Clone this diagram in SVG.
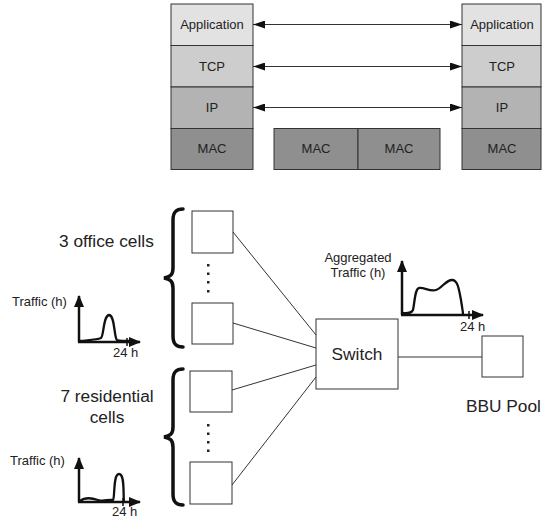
<svg xmlns="http://www.w3.org/2000/svg" width="542" height="524" viewBox="0 0 542 524">
<style>
text{font-family:"Liberation Sans",Arial,sans-serif;fill:#222}
.s{font-size:13px;text-anchor:middle}
.l{font-size:17.3px}
.app{fill:#e2e2e2;stroke:#333;stroke-width:1}
.tcp{fill:#cdcdcd;stroke:#333;stroke-width:1}
.ip{fill:#b3b3b3;stroke:#333;stroke-width:1}
.mac{fill:#8f8f8f;stroke:#333;stroke-width:1}
.box{fill:#fff;stroke:#333;stroke-width:1}
.ln{stroke:#333;stroke-width:1;fill:none}
.ax{stroke:#111;stroke-width:2.5;fill:none}
.cv{stroke:#111;stroke-width:2.3;fill:none}
.br{stroke:#111;stroke-width:3.5;fill:none;stroke-linecap:round}
.dot{fill:#222}
</style>
<defs>
<marker id="ah" viewBox="0 0 12 8" refX="12" refY="4" markerWidth="12" markerHeight="8" markerUnits="userSpaceOnUse" orient="auto-start-reverse">
<path d="M0,0L12,4L0,8z" fill="#111"/>
</marker>
<marker id="axh" viewBox="0 0 12 10" refX="11" refY="5" markerWidth="12" markerHeight="10" markerUnits="userSpaceOnUse" orient="auto">
<path d="M0,0L12,5L0,10z" fill="#111"/>
</marker>
</defs>

<g id="stack-left">
<rect class="app" x="171" y="4" width="82" height="41.5"/>
<rect class="tcp" x="171" y="45.5" width="82" height="41.5"/>
<rect class="ip" x="171" y="87" width="82" height="41.5"/>
<rect class="mac" x="171" y="128.5" width="82" height="41"/>
<text class="s" x="212" y="28.5">Application</text>
<text class="s" x="212" y="70.5">TCP</text>
<text class="s" x="212" y="111.5">IP</text>
<text class="s" x="212" y="153">MAC</text>
</g>
<g id="stack-middle">
<rect class="mac" x="274" y="128.5" width="84" height="41"/>
<rect class="mac" x="358" y="128.5" width="82" height="41"/>
<text class="s" x="316" y="153">MAC</text>
<text class="s" x="399" y="153">MAC</text>
</g>
<g id="stack-right">
<rect class="app" x="462" y="4" width="79" height="41.5"/>
<rect class="tcp" x="462" y="45.5" width="79" height="41.5"/>
<rect class="ip" x="462" y="87" width="79" height="41.5"/>
<rect class="mac" x="462" y="128.5" width="79" height="41"/>
<text class="s" x="502" y="28.5">Application</text>
<text class="s" x="502" y="70.5">TCP</text>
<text class="s" x="502" y="111.5">IP</text>
<text class="s" x="502" y="153">MAC</text>
</g>

<g id="office">
<text class="l" x="59" y="247">3 office cells</text>
<path class="br" d="M183,209 C176,209 173,212 173,220 L173,268 C173,275 170,277 164,278 C170,279 173,281 173,288 L173,336 C173,344 176,347 183,347"/>
<rect class="box" x="192" y="211" width="41" height="42"/>
<rect class="box" x="192" y="303" width="41" height="41"/>
<rect class="dot" x="207" y="264" width="2.5" height="2.5"/>
<rect class="dot" x="207" y="272.5" width="2.5" height="2.5"/>
<rect class="dot" x="207" y="281" width="2.5" height="2.5"/>
<rect class="dot" x="207" y="290" width="2.5" height="2.5"/>
</g>
<g id="office-traffic">
<text x="12" y="306" style="font-size:13px">Traffic (h)</text>
<line class="ax" x1="79" y1="342" x2="79" y2="296" marker-end="url(#axh)"/>
<line class="ax" x1="78" y1="342" x2="140" y2="342" marker-end="url(#axh)"/>
<line x1="127" y1="338" x2="127" y2="346" stroke="#111" stroke-width="1.5"/>
<path class="cv" d="M80,341 C88,340 96,340 101,338 C104,336 103,316 109,315 C115,315 114,338 117,340 C121,341 125,341 130,341"/>
<text x="113" y="357" style="font-size:13px">24 h</text>
</g>

<g id="residential">
<text class="l" x="107" y="402" text-anchor="middle">7 residential</text>
<text class="l" x="107" y="423" text-anchor="middle">cells</text>
<path class="br" d="M183,369 C176,369 173,372 173,380 L173,427 C173,434 170,436 164,437 C170,438 173,440 173,447 L173,494 C173,502 176,505 183,505"/>
<rect class="box" x="190" y="371" width="42" height="41"/>
<rect class="box" x="190" y="462" width="42" height="42"/>
<rect class="dot" x="207" y="424" width="2.5" height="2.5"/>
<rect class="dot" x="207" y="432.5" width="2.5" height="2.5"/>
<rect class="dot" x="207" y="441" width="2.5" height="2.5"/>
<rect class="dot" x="207" y="449.5" width="2.5" height="2.5"/>
</g>
<g id="residential-traffic">
<text x="10" y="465" style="font-size:13px">Traffic (h)</text>
<line class="ax" x1="79" y1="502" x2="79" y2="458" marker-end="url(#axh)"/>
<line class="ax" x1="78" y1="502" x2="140" y2="502" marker-end="url(#axh)"/>
<line x1="123" y1="498" x2="123" y2="506" stroke="#111" stroke-width="1.5"/>
<path class="cv" d="M80,501 C85,497 92,498 98,500 C104,502 108,499 113,500 C115,498 113,474 119,474 C125,474 123,495 124,501"/>
<text x="112" y="516" style="font-size:13px">24 h</text>
</g>

<g id="switch">
<rect class="box" x="316" y="319" width="82" height="70"/>
<text class="l" x="357" y="360" text-anchor="middle">Switch</text>
</g>
<g id="aggregated-traffic">
<text class="s" x="358" y="262">Aggregated</text>
<text class="s" x="358" y="277">Traffic (h)</text>
<line class="ax" x1="402" y1="315" x2="402" y2="261" marker-end="url(#axh)"/>
<line class="ax" x1="401" y1="315" x2="483" y2="315" marker-end="url(#axh)"/>
<line x1="469" y1="311" x2="469" y2="319" stroke="#111" stroke-width="1.5"/>
<path class="cv" d="M402,313 C407,313 411,314 413,310 C415,300 415,289 419,288 C424,287 430,292 436,290 C442,288 446,280 452,280 C458,280 459,290 461,300 C462,307 463,312 463,314"/>
<text x="460" y="331" style="font-size:13px">24 h</text>
</g>
<g id="bbu">
<rect class="box" x="482" y="336" width="41" height="41"/>
<text class="l" x="466" y="412">BBU Pool</text>
</g>

<g id="connectors">
<line class="ln" x1="253" y1="24.5" x2="462" y2="24.5" marker-start="url(#ah)" marker-end="url(#ah)"/>
<line class="ln" x1="253" y1="66.5" x2="462" y2="66.5" marker-start="url(#ah)" marker-end="url(#ah)"/>
<line class="ln" x1="253" y1="107.5" x2="462" y2="107.5" marker-start="url(#ah)" marker-end="url(#ah)"/>
<line class="ln" x1="233" y1="232" x2="316" y2="335"/>
<line class="ln" x1="233" y1="323" x2="316" y2="348"/>
<line class="ln" x1="232" y1="390" x2="316" y2="365"/>
<line class="ln" x1="232" y1="485" x2="316" y2="377"/>
<line class="ln" x1="398" y1="357" x2="482" y2="357"/>
</g>
</svg>
